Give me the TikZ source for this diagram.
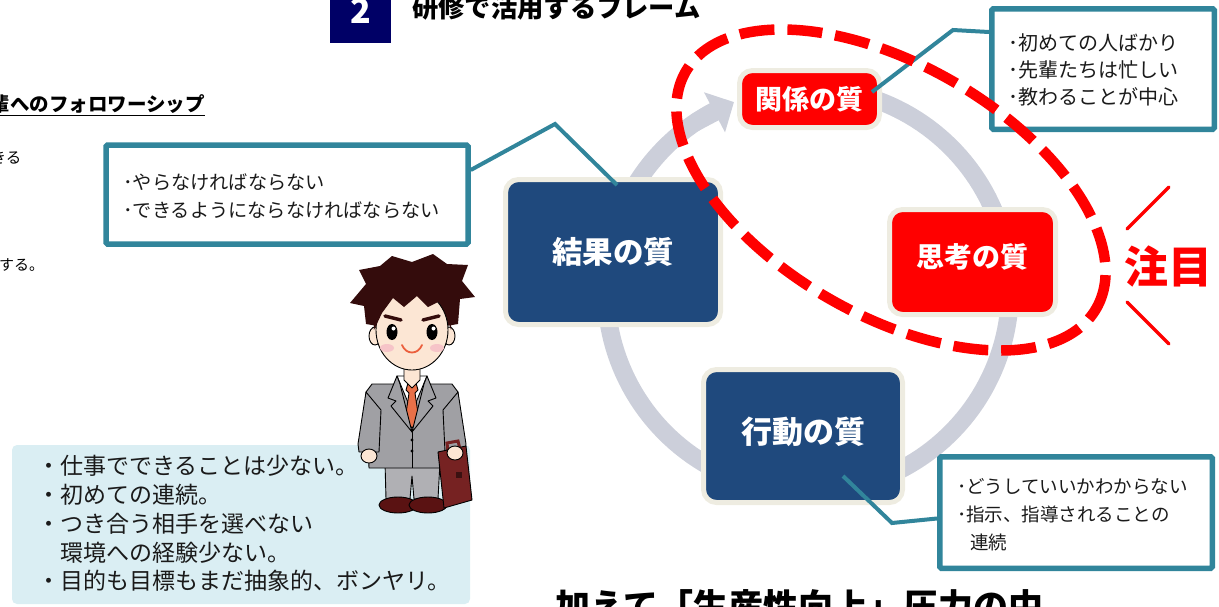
\documentclass[tikz,border=0pt]{standalone}
\usepackage{fontspec}
\setmainfont{Noto Sans CJK JP}
\usetikzlibrary{arrows.meta}

\definecolor{qnavy}{RGB}{31,73,125}
\definecolor{qred}{RGB}{255,0,0}
\definecolor{qcream}{RGB}{238,236,225}
\definecolor{ringgray}{RGB}{204,207,218}
\definecolor{qteal}{RGB}{49,133,155}
\definecolor{titlenavy}{RGB}{0,0,102}
\definecolor{paleblue}{RGB}{218,238,243}
\definecolor{hairc}{RGB}{52,12,12}
\definecolor{skinc}{RGB}{252,230,212}
\definecolor{cheekc}{RGB}{246,196,200}
\definecolor{suitc}{RGB}{160,160,164}
\definecolor{pantsc}{RGB}{176,176,180}
\definecolor{tiec}{RGB}{232,112,72}
\definecolor{shoec}{RGB}{90,18,18}
\definecolor{casec}{RGB}{118,34,34}
\definecolor{inkc}{RGB}{26,26,26}

\begin{document}
\begin{tikzpicture}[x=1pt,y=-1pt,
  quality/.style={draw=qcream, line width=5pt, rounded corners=13pt,
    text=white, inner sep=0pt, font=\bfseries\fontsize{28}{28}\selectfont},
  callout/.style={draw=qteal, line width=5.5pt, fill=white,
    rounded corners=1.5pt, inner sep=0pt},
  lead/.style={draw=qteal, line width=4pt},
  note/.style={anchor=west, inner sep=0pt, align=left, text=inkc},
  ring/.style={draw=ringgray, line width=18pt},
  outline/.style={draw=black, line width=0.9pt, line join=round}
]
\useasboundingbox (0,0) rectangle (1219,606);
\clip (0,0) rectangle (1219,606);

% ---- heading strip ----
\node[fill=titlenavy, minimum width=61pt, minimum height=64pt, inner sep=0pt,
  text=white, font=\bfseries\fontsize{34}{34}\selectfont] (num) at (360.5,11) {2};
\node[anchor=base west, inner sep=0pt, font=\bfseries\fontsize{26.3}{26}\selectfont]
  (title) at (412,17) {研修で活用するフレーム};

% ---- left column text ----
\node[anchor=base east, inner sep=0pt, font=\bfseries\fontsize{19.5}{20}\selectfont]
  (follow) at (205,111) {輩へのフォロワーシップ};
\draw[line width=1.4pt] (follow.south west |- 0,115.5) -- (follow.south east |- 0,115.5);
\node[anchor=east, inner sep=0pt, font=\fontsize{15.5}{16}\selectfont] (kiru) at (21.5,158) {きる};
\node[anchor=west, inner sep=0pt, font=\fontsize{15}{16}\selectfont] (suru) at (-1,265) {する。};

% ---- cycle ring ----
\draw[ring] plot[domain=-80:243, samples=160] ({808+202*cos(\x)},{290+202*sin(\x)});
\draw[ring, -{Triangle[length=22pt,width=44pt]}]
  ({808+202*cos(236)},{290+202*sin(236)}) -- ({808+202*cos(248.5)},{290+202*sin(248.5)});

% ---- quality boxes ----
\node[quality, fill=qnavy, minimum width=215pt, minimum height=145pt,
  font=\bfseries\fontsize{30.5}{30}\selectfont] (kekka) at (613,252) {結果の質};
\node[quality, fill=qred, minimum width=140pt, minimum height=57pt,
  font=\bfseries\fontsize{27}{27}\selectfont] (kankei) at (809.5,99) {関係の質};
\node[quality, fill=qred, minimum width=166pt, minimum height=105pt]
  (shikou) at (972.5,262) {\raisebox{5pt}[0.88em][0.12em]{思考の質}};
\node[quality, fill=qnavy, minimum width=199pt, minimum height=133pt,
  font=\bfseries\fontsize{31}{31}\selectfont] (koudou) at (803,436)
  {\raisebox{4pt}[0.88em][0.12em]{行動の質}};

% ---- callouts ----
\node[callout, minimum width=362pt, minimum height=99pt] (c1) at (287,194.5) {};
\node[note, font=\fontsize{19.2}{28}\selectfont] (c1t) at (123,196)
  {･やらなければならない\\･できるようにならなければならない};
\coordinate (k1) at (555,124);
\draw[lead] ([yshift=24.5pt]c1.east) -- (k1) -- ([xshift=4pt,yshift=-8pt]kekka.north);

\node[callout, minimum width=222.5pt, minimum height=120.5pt] (c2) at (1103,69) {};
\node[note, font=\fontsize{20}{27}\selectfont] (c2t) at (1008,70)
  {･初めての人ばかり\\･先輩たちは忙しい\\･教わることが中心};
\coordinate (k2) at (953,30);
\draw[lead] ([xshift=-10pt,yshift=7pt]kankei.east) -- (k2) -- ([yshift=37pt]c2.west);

\node[callout, minimum width=272.5pt, minimum height=111.5pt] (c3) at (1076,512.5) {};
\node[note, font=\fontsize{18.5}{28}\selectfont] (c3t) at (957,515)
  {･どうしていいかわからない\\･指示、指導されることの\\\hspace*{13pt}連続};
\coordinate (k3) at (892,523);
\draw[lead] ([xshift=40pt,yshift=-40pt]koudou.center) -- (k3) -- ([yshift=-6pt]c3.west);

% ---- focus ellipse and mark ----
\draw[qred, line width=10.5pt, dash pattern=on 35pt off 13pt, shift={(891,190)}, rotate=-30]
  (0,0) ellipse[x radius=237pt, y radius=125pt];
\node[anchor=west, inner sep=0pt, text=qred, font=\bfseries\fontsize{44}{44}\selectfont]
  (focus) at (1124,266) {注目};
\draw[qred, line width=3.5pt, line cap=round] (1127,229) -- (1169,187);
\draw[qred, line width=3.5pt, line cap=round] (1127,302) -- (1169,344);

% ---- newcomer situation box ----
\node[fill=paleblue, rounded corners=5pt, minimum width=458pt, minimum height=159pt,
  inner sep=0pt] (situ) at (241,524.5) {};
\node[note, font=\fontsize{23}{28.8}\selectfont] (situt) at (37,523.5)
  {・仕事でできることは少ない。\\・初めての連続。\\・つき合う相手を選べない\\　環境への経験少ない。\\・目的も目標もまだ抽象的、ボンヤリ。};

% ---- newcomer figure ----
% hair behind the head
\fill[hairc] (350,303) -- (366,284) -- (359,270) -- (380,266) -- (392,256) -- (412,262)
  -- (433,254) -- (447,264) -- (468,265) -- (462,281) -- (475,297) -- (460,299)
  -- (458,324) -- (412,332) -- (366,324) -- (364,306) -- cycle;
% trousers and shoes
\filldraw[fill=pantsc, outline] (385,462) -- (440,462) -- (438,499) -- (414,499) -- (412,476)
  -- (410,499) -- (386,499) -- cycle;
\filldraw[fill=shoec, outline] (398,505) ellipse[x radius=19pt, y radius=8pt];
\filldraw[fill=shoec, outline] (428,505) ellipse[x radius=19pt, y radius=8pt];
% jacket and sleeves
\filldraw[fill=suitc, outline] (372,384) -- (452,384) -- (458,392) -- (455,468) -- (369,468)
  -- (366,392) -- cycle;
\filldraw[fill=suitc, outline] (366,392) -- (358,444) -- (359,452) -- (379,452) -- (381,410) -- cycle;
\filldraw[fill=suitc, outline] (458,392) -- (466,444) -- (465,452) -- (445,452) -- (443,410) -- cycle;
\draw[outline] (412,430) -- (412,468);
% shirt, tie and lapels
\filldraw[fill=white, outline] (397,376) -- (427,376) -- (412,412) -- cycle;
\filldraw[fill=tiec, outline] (408,383) -- (416,383) -- (418,390) -- (415,393) -- (419,420)
  -- (412,428) -- (405,420) -- (409,393) -- (406,390) -- cycle;
\filldraw[fill=suitc, outline] (397,376) -- (388,398) -- (396,401) -- (391,406) -- (412,432)
  -- (400,384) -- cycle;
\filldraw[fill=suitc, outline] (427,376) -- (436,398) -- (428,401) -- (433,406) -- (412,432)
  -- (424,384) -- cycle;
\fill (412,440) circle[radius=1.6pt];
\fill (412,451) circle[radius=1.6pt];
% neck, ears and face
\filldraw[fill=skinc, outline] (404,364) -- (404,380) -- (412,388) -- (420,380) -- (420,364) -- cycle;
\filldraw[fill=skinc, outline] (375,336) ellipse[x radius=6pt, y radius=9pt];
\filldraw[fill=skinc, outline] (449,336) ellipse[x radius=6pt, y radius=9pt];
\filldraw[fill=skinc, outline] (412,330) ellipse[x radius=36pt, y radius=40pt];
% fringe
\fill[hairc] (374,330) -- (373,302) -- (384,285) -- (412,277) -- (440,285) -- (452,302)
  -- (451,330) -- (446,312) -- (440,301) -- (428,307) -- (417,296) -- (404,307)
  -- (393,298) -- (382,313) -- cycle;
% face details
\draw[hairc, line width=3.5pt, line cap=round] (385,316) -- (401,320);
\draw[hairc, line width=3.5pt, line cap=round] (423,320) -- (439,316);
\fill (392,332) ellipse[x radius=5.5pt, y radius=8pt];
\fill (432,332) ellipse[x radius=5.5pt, y radius=8pt];
\fill[white] (393.5,328.5) circle[radius=2pt];
\fill[white] (433.5,328.5) circle[radius=2pt];
\fill[cheekc] (387,348) ellipse[x radius=7pt, y radius=4pt];
\fill[cheekc] (437,348) ellipse[x radius=7pt, y radius=4pt];
\draw[tiec!85!red, line width=1.8pt, line cap=round] (402,345) .. controls (406,355) and (418,355) .. (422,345);
% briefcase and hands
\draw[casec, line width=3pt] (448,452) -- (447,443) -- (458,441) -- (460,449);
\filldraw[fill=casec, outline] (438,452) -- (466,446) -- (472,500) -- (444,508) -- cycle;
\fill[casec!50!black] (456,472) rectangle (462,478);
\filldraw[fill=skinc, outline] (369,456) ellipse[x radius=8pt, y radius=7pt];
\filldraw[fill=skinc, outline] (455,453) ellipse[x radius=8pt, y radius=7pt];

% ---- bottom caption ----
\node[anchor=base west, inner sep=0pt, font=\bfseries\fontsize{35}{35}\selectfont]
  (caption) at (555,619) {加えて「生産性向上」圧力の中};
\end{tikzpicture}
\end{document}
